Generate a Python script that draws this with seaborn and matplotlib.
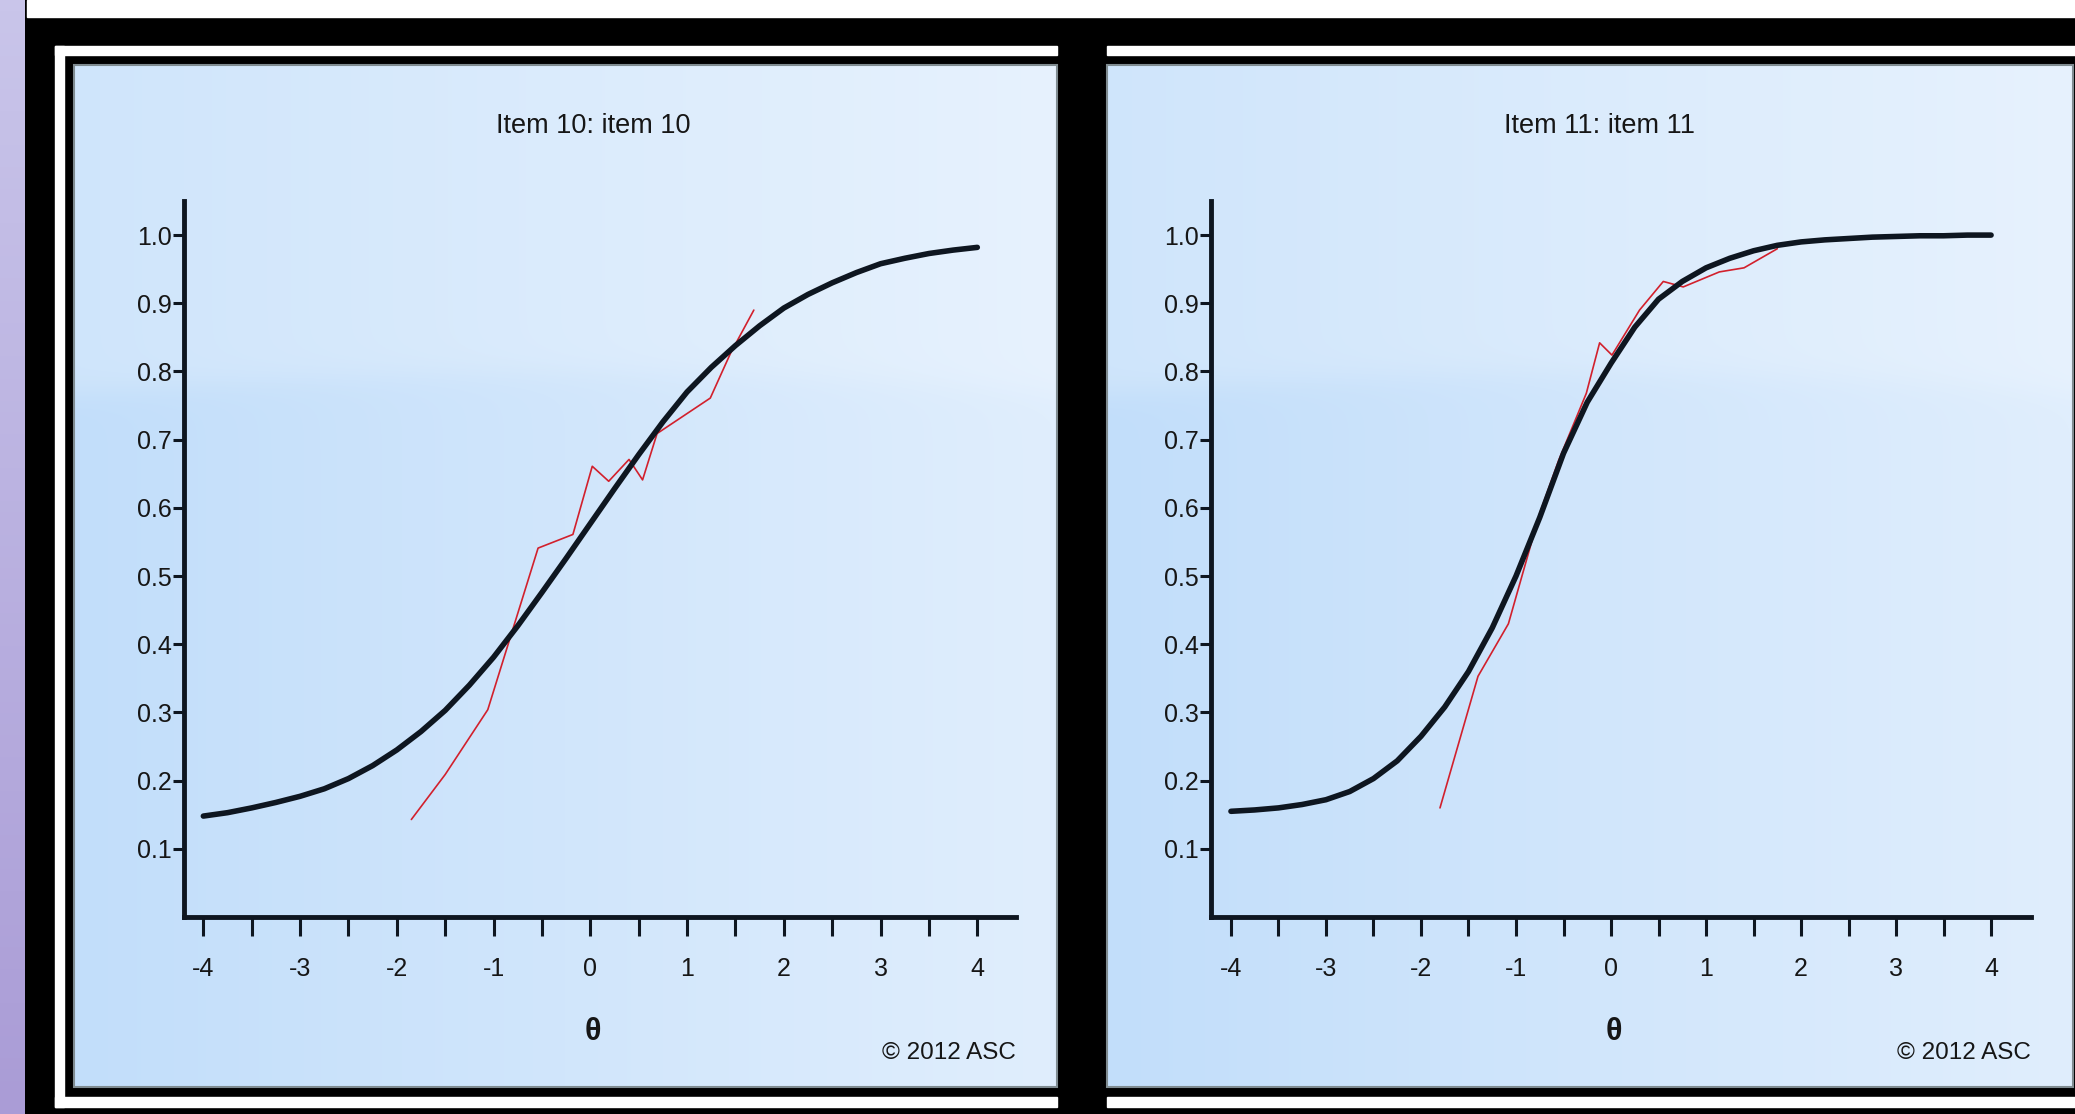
import numpy as np
import pandas as pd
import matplotlib
matplotlib.use("Agg")
import matplotlib.pyplot as plt
import seaborn as sns
from matplotlib.patches import Rectangle
from matplotlib.ticker import MultipleLocator, FormatStrFormatter

# ukuran gambar (piksel)
W, H = 2075, 1114

# data kurva model (theta tiap 0.25) dan titik empiris (garis merah)
theta_grid = [-4.0, -3.75, -3.5, -3.25, -3.0, -2.75, -2.5, -2.25, -2.0, -1.75, -1.5,
              -1.25, -1.0, -0.75, -0.5, -0.25, 0.0, 0.25, 0.5, 0.75, 1.0, 1.25,
              1.5, 1.75, 2.0, 2.25, 2.5, 2.75, 3.0, 3.25, 3.5, 3.75, 4.0]
item10_model = [0.148, 0.153, 0.160, 0.168, 0.177, 0.188, 0.203, 0.222, 0.245, 0.272, 0.303,
                0.340, 0.381, 0.427, 0.476, 0.526, 0.577, 0.628, 0.678, 0.726, 0.770, 0.806,
                0.838, 0.867, 0.893, 0.913, 0.930, 0.945, 0.958, 0.966, 0.973, 0.978, 0.982]
item10_emp_theta = [-1.85, -1.50, -1.06, -0.54, -0.18, 0.02, 0.19, 0.40, 0.54, 0.69, 1.24, 1.45, 1.69]
item10_emp_p = [0.143, 0.209, 0.304, 0.541, 0.561, 0.661, 0.639, 0.671, 0.641, 0.709, 0.761, 0.827, 0.890]

item11_model = [0.155, 0.157, 0.160, 0.165, 0.172, 0.184, 0.203, 0.229, 0.265, 0.308, 0.360,
                0.424, 0.500, 0.586, 0.680, 0.755, 0.812, 0.865, 0.906, 0.932, 0.952, 0.966,
                0.977, 0.985, 0.990, 0.993, 0.995, 0.997, 0.998, 0.999, 0.999, 1.000, 1.000]
item11_emp_theta = [-1.80, -1.40, -1.08, -0.75, -0.55, -0.26, -0.12, 0.01, 0.30, 0.55, 0.76, 1.14, 1.40, 1.75]
item11_emp_p = [0.160, 0.353, 0.430, 0.592, 0.670, 0.768, 0.842, 0.824, 0.890, 0.932, 0.924, 0.946, 0.952, 0.980]

titles = ["Item 10: item 10", "Item 11: item 11"]
x_ticks = [-4, -3, -2, -1, 0, 1, 2, 3, 4]
y_ticks = [0.1, 0.2, 0.3, 0.4, 0.5, 0.6, 0.7, 0.8, 0.9, 1.0]

MODEL_COLOR = "#0e1620"
EMP_COLOR = "#d2202c"
TEXT_COLOR = "#161616"

sns.set_theme(style="white")
plt.rcParams["font.family"] = ["Liberation Sans Narrow", "Liberation Sans", "DejaVu Sans"]
plt.rcParams["axes.unicode_minus"] = False


def fx(x):
    return x / W


def fy(y):
    return 1 - y / H


fig = plt.figure(figsize=(W / 100, H / 100), dpi=100, facecolor="black")

# --- latar belakang: bingkai putih, strip lavender, panel biru ---
bg = fig.add_axes([0, 0, 1, 1])
bg.axis("off")


def gradient_panel(x0, x1, y0, y1):
    u = np.linspace(0, 1, 300)[None, :]
    v = np.linspace(0, 1, 200)[:, None]
    left = np.array([194, 222, 250]) / 255
    right = np.array([224, 238, 253]) / 255
    base = left + (right - left) * u[..., None]
    edge = 0.30 + 0.02 * (2 * u - 1) ** 2
    gloss = 1 / (1 + np.exp((v - edge) / 0.008))
    img = base + (1 - base) * 0.22 * gloss[..., None]
    bg.imshow(img, extent=(x0, x1, y1, y0), aspect="auto",
              interpolation="bilinear", zorder=1)
    bg.add_patch(Rectangle((x0, y0), x1 - x0, y1 - y0, fill=False,
                           edgecolor="#7f8b90", lw=1.5, zorder=2))


# strip lavender kiri
lav = np.linspace([201, 197, 234], [170, 156, 214], 100)[:, None, :] / 255
bg.imshow(lav, extent=(0, 25, H, 0), aspect="auto", zorder=1)
# strip putih atas
bg.add_patch(Rectangle((27, 0), W - 27, 17, color="white", zorder=1))

# garis bingkai putih
for (x, y, w, h) in [(55, 46, 1002, 9), (55, 46, 9, 1061), (55, 1097, 1002, 10),
                     (1107, 46, 968, 9), (1107, 1097, 968, 10)]:
    bg.add_patch(Rectangle((x, y), w, h, color="white", zorder=1))

gradient_panel(74, 1057, 65, 1087)
gradient_panel(1107, 2073, 65, 1087)

bg.set_xlim(0, W)
bg.set_ylim(H, 0)

# --- panel grafik ---
axes_px = [(184, 1016, (-4.2, 4.4)), (1211, 2031, (-4.21, 4.42))]
model_series = [item10_model, item11_model]
emp_series = [(item10_emp_theta, item10_emp_p), (item11_emp_theta, item11_emp_p)]
title_x = [593, 1599]
theta_x = [593, 1614]

for i in range(2):
    x0, x1, xlim = axes_px[i]
    ax = fig.add_axes([fx(x0), fy(917), (x1 - x0) / W, (917 - 201) / H])
    ax.patch.set_alpha(0)

    df_model = pd.DataFrame({"theta": theta_grid, "p": model_series[i]})
    df_emp = pd.DataFrame({"theta": emp_series[i][0], "p": emp_series[i][1]})

    sns.lineplot(data=df_emp, x="theta", y="p", ax=ax, color=EMP_COLOR, lw=1.2)
    sns.lineplot(data=df_model, x="theta", y="p", ax=ax, color=MODEL_COLOR, lw=4.0)

    ax.set_xlim(*xlim)
    ax.set_ylim(0, 1.05)
    ax.set_xlabel("")
    ax.set_ylabel("")

    for side in ["top", "right"]:
        ax.spines[side].set_visible(False)
    for side in ["left", "bottom"]:
        ax.spines[side].set_linewidth(3.5)
        ax.spines[side].set_color(MODEL_COLOR)

    ax.set_xticks(x_ticks)
    ax.xaxis.set_minor_locator(MultipleLocator(0.5))
    ax.set_yticks(y_ticks)
    ax.yaxis.set_major_formatter(FormatStrFormatter("%.1f"))
    ax.tick_params(axis="x", which="both", bottom=True, direction="out",
                   length=14, width=2.2, color=MODEL_COLOR)
    ax.tick_params(axis="x", which="major", pad=15, labelsize=18, labelcolor=TEXT_COLOR)
    ax.tick_params(axis="y", which="major", left=True, direction="out",
                   length=8, width=2.2, color=MODEL_COLOR, pad=1,
                   labelsize=18, labelcolor=TEXT_COLOR)
    ax.grid(False)

    fig.text(fx(title_x[i]), fy(126), titles[i], ha="center", va="center",
             fontsize=19.5, color=TEXT_COLOR)
    fig.text(fx(theta_x[i]), fy(1032), "θ", ha="center", va="center",
             fontsize=22, fontweight="bold", color=TEXT_COLOR)
    fig.text(fx(x1), fy(1053), "© 2012 ASC", ha="right", va="center",
             fontsize=17.5, color=TEXT_COLOR)

fig.savefig("out.png", dpi=100, facecolor="black")
